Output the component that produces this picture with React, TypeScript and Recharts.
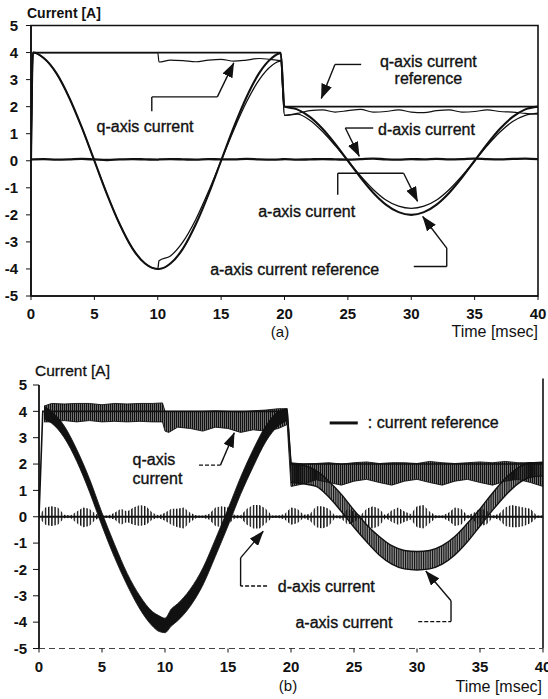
import React from 'react';
import {
  ComposedChart,
  Line,
  Area,
  XAxis,
  YAxis,
  ReferenceLine,
  ReferenceArea,
  ReferenceDot,
} from 'recharts';

const FONT = '"Liberation Sans", Arial, Helvetica, sans-serif';
const INK = '#111';

// ---------- shared ticks ----------
const yTicks = [-5, -4, -3, -2, -1, 0, 1, 2, 3, 4, 5];
const xTicks = [0, 5, 10, 15, 20, 25, 30, 35, 40];

// ---------- panel (a) : simulation ----------
const timeA = [0, 0.15, 1, 2, 3, 4, 5, 6, 7, 8, 9, 10, 10.1, 11, 12, 13, 14, 15, 16, 17, 18, 19, 19.7,
  20, 21, 22, 23, 24, 25, 26, 27, 28, 29, 30, 31, 32, 33, 34, 35, 36, 37, 38, 39, 40];
const qRefA = [0, 4, 4, 4, 4, 4, 4, 4, 4, 4, 4, 4, 4, 4, 4, 4, 4, 4, 4, 4, 4, 4, 4,
  2, 2, 2, 2, 2, 2, 2, 2, 2, 2, 2, 2, 2, 2, 2, 2, 2, 2, 2, 2, 2];
const qMeasA = [0, 4, 4, 4, 4, 4, 4, 4, 4, 4, 4, 4, 3.65, 3.72, 3.7, 3.66, 3.72, 3.75, 3.68, 3.72, 3.78, 3.74, 3.7,
  1.68, 1.75, 1.85, 1.88, 1.8, 1.85, 1.9, 1.8, 1.82, 1.88, 1.8, 1.78, 1.85, 1.88, 1.8, 1.82, 1.88, 1.82, 1.8, 1.75, 1.72];
const aRefA = [0, 4, 3.8, 3.24, 2.35, 1.24, 0, -1.24, -2.35, -3.24, -3.8, -4, -4, -3.8, -3.24, -2.35, -1.24, 0, 1.24, 2.35, 3.24, 3.8, 3.98,
  2, 1.9, 1.62, 1.18, 0.62, 0, -0.62, -1.18, -1.62, -1.9, -2, -1.9, -1.62, -1.18, -0.62, 0, 0.62, 1.18, 1.62, 1.9, 2];
const aMeasA = [0, 4, 3.8, 3.24, 2.35, 1.24, 0, -1.24, -2.35, -3.24, -3.8, -4, -3.7, -3.52, -2.99, -2.17, -1.14, 0, 1.14, 2.17, 2.99, 3.52, 3.68,
  1.68, 1.72, 1.5, 1.08, 0.56, 0, -0.56, -1.06, -1.45, -1.68, -1.76, -1.68, -1.45, -1.06, -0.56, 0, 0.56, 1.06, 1.45, 1.68, 1.76];
const dA = [0.04, 0.05, 0.06, 0.04, 0.05, 0.07, 0.05, 0.03, 0.05, 0.06,
  0.05, 0.04, 0.05, 0.06, 0.05, 0.04, 0.06, 0.05, 0.05, 0.07,
  0.05, 0.04, 0.05, 0.06, 0.04, 0.05, 0.06, 0.05, 0.04, 0.06,
  0.08, 0.05, 0.04, 0.06, 0.05, 0.07, 0.05, 0.06, 0.08, 0.06,
  0.05, 0.07, 0.08, 0.06];

const rowsA = timeA.map((t, i) => ({
  t,
  qRef: qRefA[i],
  qMeas: qMeasA[i],
  aRef: aRefA[i],
  aMeas: aMeasA[i],
  d: dA[i],
}));

// ---------- panel (b) : experiment ----------
const qRefBT = [0, 0.3, 19.7, 20, 40];
const qRefBV = [0, 4, 4, 2, 2];

const qBandT = [0.4, 1, 2, 3, 4, 5, 6, 7, 8, 9, 9.8, 10, 10.3, 11, 12, 13, 14, 15, 16, 17, 18, 19, 19.7,
  20, 21, 22, 23, 24, 25, 26, 27, 28, 29, 30, 31, 32, 33, 34, 35, 36, 37, 38, 39, 40];
const qBandLo = [3.6, 3.6, 3.65, 3.6, 3.65, 3.6, 3.62, 3.6, 3.62, 3.6, 3.6, 3.25, 3.2, 3.4, 3.35, 3.25, 3.4, 3.35, 3.2, 3.3, 3.25, 3.35, 3.5,
  1.15, 1.25, 1.4, 1.3, 1.2, 1.35, 1.42, 1.3, 1.2, 1.35, 1.42, 1.3, 1.2, 1.35, 1.42, 1.3, 1.2, 1.35, 1.42, 1.3, 1.15];
const qBandHi = [4.2, 4.3, 4.28, 4.3, 4.3, 4.25, 4.3, 4.28, 4.3, 4.3, 4.32, 4.0, 4.0, 4.0, 4.0, 4.0, 4.02, 4.0, 3.98, 4.02, 4.05, 4.1, 4.1,
  2.05, 2.0, 2.02, 2.05, 2.0, 2.05, 2.08, 2.02, 2.05, 2.05, 2.02, 2.1, 2.05, 2.02, 2.05, 2.08, 2.05, 2.1, 2.05, 2.05, 2.08];

const aBand1T = [0.4, 1, 2, 3, 4, 5, 6, 7, 8, 9, 9.5, 10, 10.5, 11, 12, 13, 14, 15, 16, 17, 18, 19, 19.7];
const aBand1Lo = [3.7, 3.55, 3.0, 2.1, 0.95, -0.35, -1.55, -2.6, -3.5, -4.15, -4.35, -4.4, -4.15, -3.95, -3.4, -2.6, -1.5, -0.35, 0.85, 1.9, 2.85, 3.45, 3.65];
const aBand1Hi = [4.2, 4.0, 3.45, 2.55, 1.45, 0.15, -1.05, -2.15, -3.0, -3.6, -3.75, -3.85, -3.5, -3.3, -2.75, -1.95, -0.85, 0.3, 1.5, 2.55, 3.45, 4.0, 4.1];

const aBand2T = [20, 21, 22, 23, 24, 25, 26, 27, 28, 29, 30, 31, 32, 33, 34, 35, 36, 37, 38, 39, 40];
const aBand2Lo = [1.3, 1.25, 1.15, 0.75, 0.2, -0.4, -0.95, -1.45, -1.8, -1.98, -2.02, -1.98, -1.8, -1.45, -0.95, -0.35, 0.25, 0.8, 1.25, 1.5, 1.55];
const aBand2Hi = [2.0, 1.95, 1.75, 1.35, 0.85, 0.25, -0.3, -0.75, -1.1, -1.28, -1.32, -1.28, -1.1, -0.75, -0.25, 0.3, 0.9, 1.45, 1.85, 2.05, 2.05];

const dBT = [0, 0.5, 1, 1.5, 2, 2.5, 3, 3.5, 4, 4.5, 5, 5.5, 6, 6.5, 7, 7.5, 8, 8.5, 9, 9.5,
  10, 10.5, 11, 11.5, 12, 12.5, 13, 13.5, 14, 14.5, 15, 15.5, 16, 16.5, 17, 17.5, 18, 18.5, 19, 19.5,
  20, 20.5, 21, 21.5, 22, 22.5, 23, 23.5, 24, 24.5, 25, 25.5, 26, 26.5, 27, 27.5, 28, 28.5, 29, 29.5,
  30, 30.5, 31, 31.5, 32, 32.5, 33, 33.5, 34, 34.5, 35, 35.5, 36, 36.5, 37, 37.5, 38, 38.5, 39, 39.5, 40];
const dBHi = [0.05, 0.35, 0.4, 0.35, 0.08, 0.05, 0.2, 0.35, 0.3, 0.1,
  0.05, 0.05, 0.15, 0.3, 0.2, 0.35, 0.45, 0.4, 0.15, 0.05,
  0.15, 0.3, 0.3, 0.35, 0.15, 0.05, 0.05, 0.1, 0.35, 0.4,
  0.35, 0.08, 0.05, 0.3, 0.45, 0.45, 0.3, 0.05, 0.05, 0.1,
  0.35, 0.3, 0.08, 0.1, 0.4, 0.4, 0.3, 0.05, 0.05, 0.3,
  0.2, 0.05, 0.3, 0.4, 0.3, 0.05, 0.25, 0.35, 0.2, 0.1,
  0.4, 0.45, 0.2, 0.05, 0.05, 0.15, 0.35, 0.3, 0.05, 0.15,
  0.3, 0.25, 0.05, 0.1, 0.35, 0.45, 0.4, 0.35, 0.3, 0.05,
  0.05];
const dBLo = [-0.05, -0.3, -0.35, -0.3, -0.06, -0.05, -0.25, -0.4, -0.35, -0.1,
  -0.05, -0.05, -0.1, -0.3, -0.2, -0.3, -0.35, -0.3, -0.1, -0.05,
  -0.15, -0.3, -0.4, -0.45, -0.2, -0.05, -0.05, -0.1, -0.35, -0.4,
  -0.3, -0.08, -0.05, -0.3, -0.45, -0.45, -0.25, -0.05, -0.05, -0.1,
  -0.3, -0.25, -0.05, -0.15, -0.4, -0.45, -0.35, -0.05, -0.08, -0.3,
  -0.2, -0.05, -0.35, -0.45, -0.35, -0.05, -0.2, -0.3, -0.2, -0.1,
  -0.4, -0.45, -0.25, -0.05, -0.05, -0.15, -0.35, -0.3, -0.05, -0.15,
  -0.35, -0.3, -0.05, -0.1, -0.35, -0.4, -0.4, -0.35, -0.25, -0.05,
  -0.05];

const zip = (t: number[], v: number[]) => t.map((x, i) => ({ t: x, v: v[i] }));
const band = (t: number[], lo: number[], hi: number[]) => t.map((x, i) => ({ t: x, r: [lo[i], hi[i]] }));

const qRefRowsB = zip(qRefBT, qRefBV);
const qBandRows = band(qBandT, qBandLo, qBandHi);
const aBand1Rows = band(aBand1T, aBand1Lo, aBand1Hi);
const aBand2Rows = band(aBand2T, aBand2Lo, aBand2Hi);
const dBandRows = band(dBT, dBLo, dBHi);

// ---------- annotations (data coordinates) ----------
type Pt = [number, number];
const leadersA: Pt[][] = [
  [[9.53, 1.83], [9.53, 2.36], [14.7, 2.36], [16.0, 3.62]],
  [[26.05, 3.56], [23.98, 3.56], [22.9, 2.3]],
  [[27.0, 1.21], [24.8, 1.21], [25.9, 0.16]],
  [[24.2, -1.26], [24.2, -0.46], [29.4, -0.46], [30.5, -1.5]],
  [[30.2, -3.91], [32.8, -3.91], [32.8, -3.23], [30.9, -2.06]],
];
const labelsA: { t: number; v: number; s: string }[] = [
  { t: 9.0, v: 1.27, s: 'q-axis current' },
  { t: 31.35, v: 3.68, s: 'q-axis current' },
  { t: 31.35, v: 3.04, s: 'reference' },
  { t: 31.2, v: 1.15, s: 'd-axis current' },
  { t: 21.75, v: -1.88, s: 'a-axis current' },
  { t: 20.8, v: -4.01, s: 'a-axis current reference' },
];
const leadersB: Pt[][] = [
  [[12.7, 1.96], [14.4, 1.96], [15.5, 3.19]],
  [[18.1, -2.63], [16.0, -2.63], [16.0, -1.56], [17.8, -0.55]],
  [[30.1, -3.98], [32.7, -3.98], [32.7, -3.19], [30.7, -2.06]],
];
const legendDashB: Pt[] = [[23.07, 3.56], [25.3, 3.56]];
const labelsB: { t: number; v: number; s: string; anchor?: string }[] = [
  { t: 9.12, v: 2.19, s: 'q-axis' },
  { t: 9.4, v: 1.46, s: 'current' },
  { t: 26.1, v: 3.56, s: ': current reference', anchor: 'start' },
  { t: 22.8, v: -2.63, s: 'd-axis current' },
  { t: 24.2, v: -4.0, s: 'a-axis current' },
];

function leader(points: Pt[], key: string, marker: string, dashFirst: boolean) {
  const out: React.ReactNode[] = [];
  for (let i = 0; i < points.length - 1; i++) {
    const last = i === points.length - 2;
    const dash = dashFirst && i === 0 ? '4 2' : undefined;
    out.push(
      <ReferenceLine
        key={`${key}-${i}`}
        segment={[
          { x: points[i][0], y: points[i][1] },
          { x: points[i + 1][0], y: points[i + 1][1] },
        ]}
        stroke={INK}
        ifOverflow="visible"
        shape={(p: any) => (
          <line
            x1={p.x1}
            y1={p.y1}
            x2={p.x2}
            y2={p.y2}
            stroke={INK}
            strokeWidth={1.4}
            strokeDasharray={dash}
            markerEnd={last ? `url(#${marker})` : undefined}
          />
        )}
      />
    );
  }
  return out;
}

function label(l: { t: number; v: number; s: string; anchor?: string }, key: string) {
  return (
    <ReferenceDot
      key={key}
      x={l.t}
      y={l.v}
      r={1}
      ifOverflow="visible"
      shape={(p: any) => (
        <text
          x={p.cx}
          y={p.cy}
          textAnchor={l.anchor || 'middle'}
          dominantBaseline="central"
          fontFamily={FONT}
          fontSize={16}
          fill={INK}
          stroke={INK}
          strokeWidth={0.35}
        >
          {l.s}
        </text>
      )}
    />
  );
}

const tickStyle = { fill: INK, fontSize: 15, fontWeight: 'bold', fontFamily: FONT } as any;

function arrowMarker(id: string) {
  return (
    <marker
      id={id}
      viewBox="0 0 15 11"
      refX={14.5}
      refY={5.5}
      markerWidth={15}
      markerHeight={11}
      markerUnits="userSpaceOnUse"
      orient="auto"
    >
      <path d="M0,0 L15,5.5 L0,11 z" fill={INK} />
    </marker>
  );
}

function PanelA() {
  return (
    <ComposedChart
      width={548}
      height={340}
      data={rowsA}
      margin={{ top: 25.5, right: 10, bottom: 14, left: 0 }}
      style={{ fontFamily: FONT }}
    >
      <defs>{arrowMarker('arrowA')}</defs>
      <XAxis
        dataKey="t"
        type="number"
        domain={[0, 40]}
        ticks={xTicks}
        allowDataOverflow
        height={30}
        tick={tickStyle}
        tickSize={4}
        tickMargin={8}
        axisLine={{ stroke: INK, strokeWidth: 1.6 }}
        tickLine={{ stroke: INK }}
        interval={0}
      />
      <YAxis
        type="number"
        domain={[-5, 5]}
        ticks={yTicks}
        allowDataOverflow
        width={31}
        tick={tickStyle}
        tickSize={5}
        tickMargin={8}
        axisLine={{ stroke: INK, strokeWidth: 1.6 }}
        tickLine={{ stroke: INK }}
        interval={0}
      />
      <ReferenceArea x1={0} x2={40} y1={-5} y2={5} fill="none" stroke={INK} strokeWidth={1.6} fillOpacity={0} />
      <Line type="monotone" dataKey="d" stroke={INK} strokeWidth={2.4} dot={false} activeDot={false} isAnimationActive={false} />
      <Line type="monotone" dataKey="qRef" stroke={INK} strokeWidth={1.7} dot={false} activeDot={false} isAnimationActive={false} />
      <Line type="monotone" dataKey="qMeas" stroke={INK} strokeWidth={1.2} dot={false} activeDot={false} isAnimationActive={false} />
      <Line type="monotone" dataKey="aRef" stroke={INK} strokeWidth={2.1} dot={false} activeDot={false} isAnimationActive={false} />
      <Line type="monotone" dataKey="aMeas" stroke={INK} strokeWidth={1.3} dot={false} activeDot={false} isAnimationActive={false} />
      {leadersA.map((pts, i) => leader(pts, `la${i}`, 'arrowA', false))}
      {labelsA.map((l, i) => label(l, `ta${i}`))}
    </ComposedChart>
  );
}

function PanelB() {
  return (
    <ComposedChart
      width={548}
      height={359}
      margin={{ top: 45, right: 5, bottom: 20.5, left: 0 }}
      style={{ fontFamily: FONT }}
    >
      <defs>
        {arrowMarker('arrowB')}
        <pattern id="hatchD" width="3.2" height="8" patternUnits="userSpaceOnUse">
          <rect x="0" y="0" width="1.4" height="8" fill={INK} />
        </pattern>
        <pattern id="hatchQ" width="2" height="8" patternUnits="userSpaceOnUse">
          <rect x="0" y="0" width="1.6" height="8" fill={INK} />
        </pattern>
        <pattern id="hatchA2" width="1.8" height="8" patternUnits="userSpaceOnUse">
          <rect x="0" y="0" width="1.3" height="8" fill={INK} />
        </pattern>
      </defs>
      <XAxis
        dataKey="t"
        type="number"
        domain={[0, 40]}
        ticks={xTicks}
        allowDataOverflow
        height={30}
        tick={tickStyle}
        tickSize={4}
        tickMargin={9}
        axisLine={{ stroke: '#444', strokeWidth: 1, strokeDasharray: '6 4' }}
        tickLine={{ stroke: INK }}
        interval={0}
      />
      <YAxis
        type="number"
        domain={[-5, 5]}
        ticks={yTicks}
        allowDataOverflow
        width={39}
        tick={tickStyle}
        tickSize={6}
        tickMargin={6}
        axisLine={{ stroke: INK, strokeWidth: 1.8 }}
        tickLine={{ stroke: INK }}
        interval={0}
      />
      <ReferenceLine
        segment={[{ x: 40, y: -5 }, { x: 40, y: 5.25 }]}
        stroke={INK}
        strokeWidth={1.6}
        ifOverflow="visible"
      />
      <ReferenceLine y={0} stroke={INK} strokeWidth={2} />
      <Area
        data={dBandRows}
        dataKey="r"
        type="linear"
        fill="url(#hatchD)"
        fillOpacity={1}
        stroke="none"
        dot={false}
        activeDot={false}
        isAnimationActive={false}
      />
      <Area
        data={qBandRows}
        dataKey="r"
        type="linear"
        fill="url(#hatchQ)"
        fillOpacity={1}
        stroke={INK}
        strokeWidth={0.9}
        dot={false}
        activeDot={false}
        isAnimationActive={false}
      />
      <Area
        data={aBand1Rows}
        dataKey="r"
        type="monotone"
        fill={INK}
        fillOpacity={1}
        stroke={INK}
        strokeWidth={0.8}
        dot={false}
        activeDot={false}
        isAnimationActive={false}
      />
      <Area
        data={aBand2Rows}
        dataKey="r"
        type="monotone"
        fill="url(#hatchA2)"
        fillOpacity={1}
        stroke={INK}
        strokeWidth={1.4}
        dot={false}
        activeDot={false}
        isAnimationActive={false}
      />
      <Line
        data={qRefRowsB}
        dataKey="v"
        type="linear"
        stroke={INK}
        strokeWidth={1.6}
        dot={false}
        activeDot={false}
        isAnimationActive={false}
      />
      {leadersB.map((pts, i) => leader(pts, `lb${i}`, 'arrowB', true))}
      <ReferenceLine
        segment={[
          { x: legendDashB[0][0], y: legendDashB[0][1] },
          { x: legendDashB[1][0], y: legendDashB[1][1] },
        ]}
        stroke={INK}
        strokeWidth={3}
        ifOverflow="visible"
      />
      {labelsB.map((l, i) => label(l, `tb${i}`))}
    </ComposedChart>
  );
}

export default function App() {
  return (
    <div style={{ position: 'absolute', left: 0, top: 0, width: 548, height: 699, background: '#fff', overflow: 'hidden' }}>
      <div style={{ position: 'absolute', left: 0, top: 0 }}>
        <PanelA />
      </div>
      <div style={{ position: 'absolute', left: 0, top: 340 }}>
        <PanelB />
      </div>
      <svg width={548} height={699} style={{ position: 'absolute', left: 0, top: 0, pointerEvents: 'none' }}>
        <text x={27} y={13} dominantBaseline="central" fontFamily={FONT} fontSize={14} fontWeight="bold" fill={INK}>
          Current [A]
        </text>
        <text x={280} y={331} textAnchor="middle" dominantBaseline="central" fontFamily={FONT} fontSize={15} fill={INK}>
          (a)
        </text>
        <text x={538} y={331} textAnchor="end" dominantBaseline="central" fontFamily={FONT} fontSize={16} fill={INK}>
          Time [msec]
        </text>
        <text x={35} y={370} dominantBaseline="central" fontFamily={FONT} fontSize={15.5} fill={INK} stroke={INK} strokeWidth={0.3}>
          Current [A]
        </text>
        <text x={288} y={685} textAnchor="middle" dominantBaseline="central" fontFamily={FONT} fontSize={15} fill={INK}>
          (b)
        </text>
        <text x={542} y={686} textAnchor="end" dominantBaseline="central" fontFamily={FONT} fontSize={16} fill={INK}>
          Time [msec]
        </text>
      </svg>
    </div>
  );
}
